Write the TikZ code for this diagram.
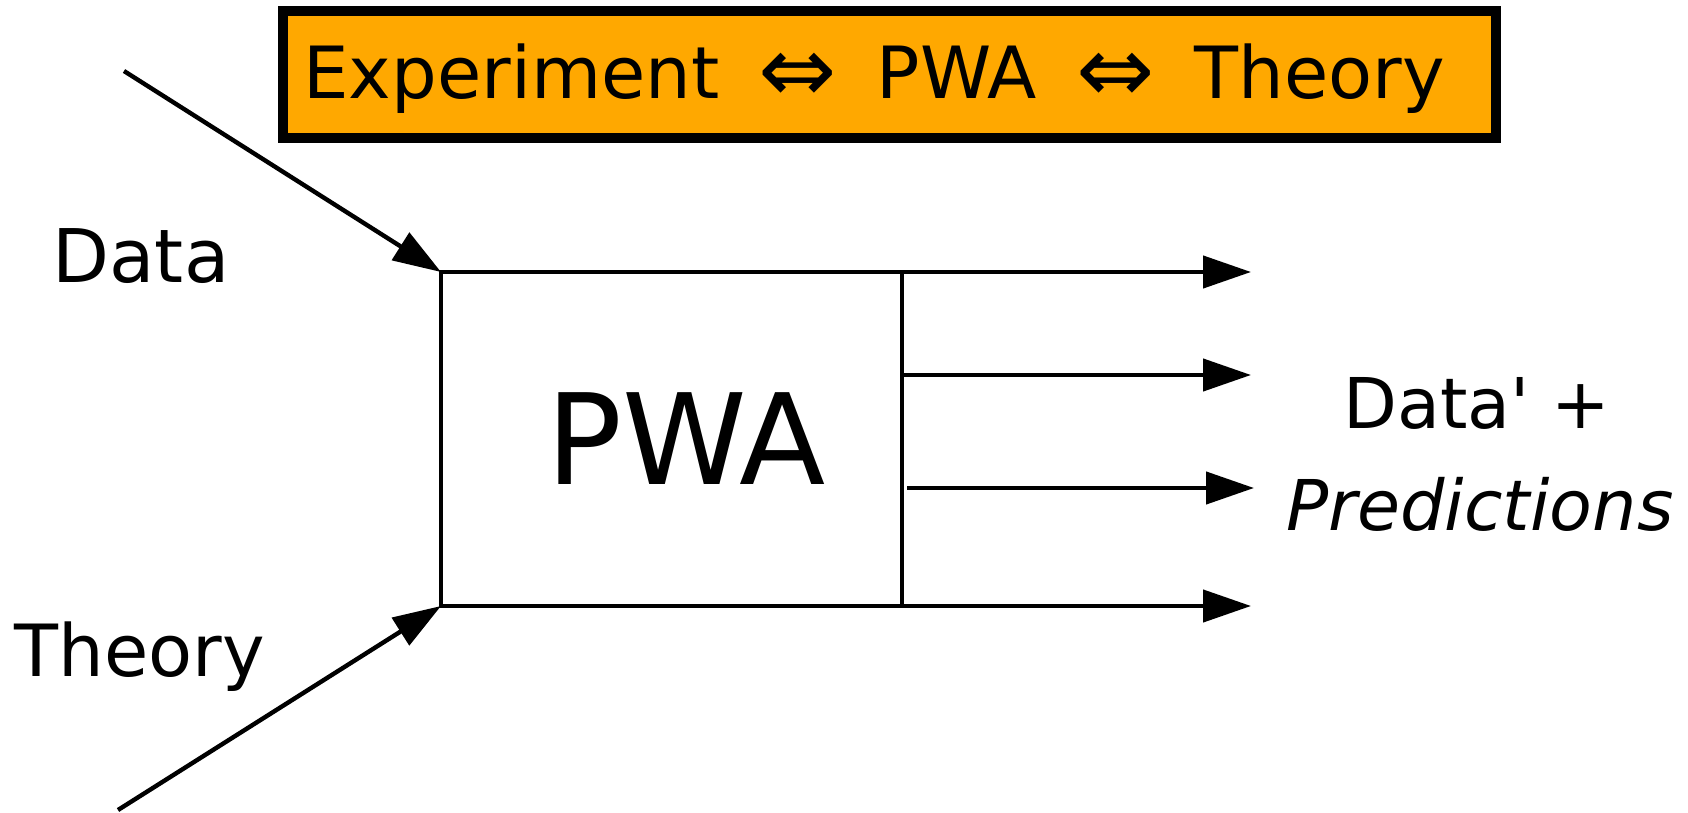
\documentclass[tikz,border=0pt]{standalone}
\usepackage{fontspec}
\setmainfont{DejaVu Sans}
\newfontfamily\nomapfont{DejaVu Sans}
\usetikzlibrary{arrows.meta}
\definecolor{titleorange}{RGB}{255,168,0}
\tikzset{
  arr/.style={line width=2.2pt,-{Triangle[length=24pt,width=16pt]}},
  boxline/.style={line width=2.2pt},
  lbl/.style={inner sep=0pt,anchor=base},
  titlebox/.style={draw=black,fill=titleorange,line width=5pt}
}
\newcommand{\bigiff}{\raisebox{-0.05em}{\scalebox{1.3}{⇔}}}
\newcommand{\gap}{\hspace{0.55em}}
\begin{document}
\begin{tikzpicture}[x=0.5pt,y=-0.5pt]
\useasboundingbox (0,0) rectangle (1688,813);
% title box
\filldraw[titlebox] (283,11) rectangle (1496,138);
\node[lbl] (title) at (874,99) {\fontsize{36}{40}\selectfont Experiment\gap\bigiff\gap PWA\gap\bigiff\gap Theory};
% PWA box
\node[draw,boxline,minimum width=230.5pt,minimum height=167pt,inner sep=0pt,outer sep=0pt,anchor=north west] (pwa) at (441,272) {};
\node[lbl] (pwatext) at (686,484) {\fontsize{63}{66}\selectfont PWA};
% inputs
\coordinate (din) at (124,71);
\coordinate (tin) at (118,810);
\draw[arr] (din) -- (pwa.north west);
\draw[arr] (tin) -- (pwa.south west);
\node[lbl] (data) at (141,282) {\fontsize{37}{40}\selectfont Data};
\node[lbl] (theory) at (140,676) {\fontsize{36}{40}\selectfont Theory};
% outputs
\coordinate (o1) at (1251,272);
\coordinate (o2) at (1251,375);
\coordinate (o3) at (1254,488);
\coordinate (o4) at (1251,606);
\coordinate (s3) at (907,488);
\draw[arr] (pwa.north east) -- (o1);
\draw[arr] (pwa.east |- o2) -- (o2);
\draw[arr] (s3) -- (o3);
\draw[arr] (pwa.south east) -- (o4);
\node[lbl] (dataprime) at (1477,428) {\fontsize{35}{40}\nomapfont\selectfont Data' +};
\node[lbl] (pred) at (1480,530) {\fontsize{35}{40}\selectfont\itshape Predictions};
\end{tikzpicture}
\end{document}
